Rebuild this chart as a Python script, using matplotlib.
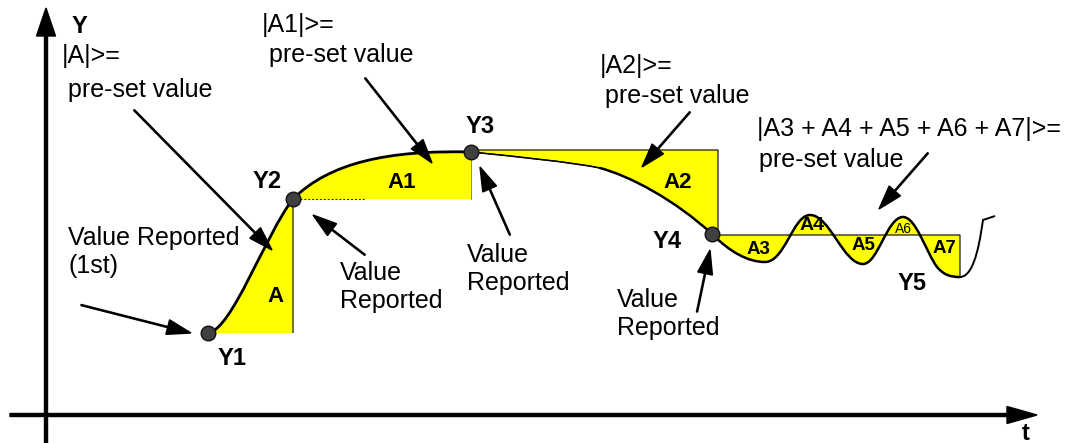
import matplotlib.pyplot as plt
from matplotlib.path import Path
from matplotlib.patches import PathPatch

plt.rcParams['font.family'] = ['Liberation Sans', 'DejaVu Sans']

# sketch is laid out in pixel units, y grows downward
report_names = ['Y1', 'Y2', 'Y3', 'Y4']
report_x = [208, 293, 471, 712]
report_y = [333, 199, 152, 234]

# signal as cubic bezier pieces: (ctrl1, ctrl2, end)
rise = [((232, 330), (265, 235), (293, 199))]
top = [((330, 162), (390, 150), (471, 152))]
drift = [((520, 157), (570, 162), (600, 168))]
fall = [((630, 176), (675, 200), (712, 234))]
wiggle = [((730, 252), (748, 262), (765, 262)),
          ((785, 262), (793, 215), (810, 215)),
          ((830, 215), (843, 264), (863, 264)),
          ((878, 264), (887, 217), (903, 217)),
          ((916, 217), (926, 252), (937, 267)),
          ((944, 275), (950, 277), (960, 277))]
tail = [((976, 277), (981, 232), (983, 220))]
tail_end = (995, 216)

area_names = ['A', 'A1', 'A2', 'A3', 'A4', 'A5', 'A6', 'A7']


def bez(start, pieces, lines=()):
    verts = [start]
    codes = [Path.MOVETO]
    for c1, c2, end in pieces:
        verts += [c1, c2, end]
        codes += [Path.CURVE4] * 3
    for p in lines:
        verts.append(p)
        codes.append(Path.LINETO)
    return Path(verts, codes)


pts = list(zip(report_x, report_y))
yellow = '#ffff00'

fig = plt.figure(figsize=(10.71, 4.43), dpi=100)
ax = fig.add_axes([0, 0, 1, 1])
ax.set_xlim(0, 1071)
ax.set_ylim(443, 0)
ax.axis('off')

# shaded areas
ax.add_patch(PathPatch(bez(pts[0], rise, [(293, 333)]), fc=yellow, ec='black', lw=0.8))
ax.add_patch(PathPatch(bez(pts[1], top, [(471, 199), (293, 199)]), fc=yellow, ec='none'))
ax.plot([471, 471], [152, 199], color='#888888', lw=0.7)
ax.plot([296, 365], [199, 199], color='#333333', lw=0.8, ls=(0, (2, 1.5)))
ax.add_patch(PathPatch(bez(pts[2], drift + fall, [(718, 235), (718, 150), (471, 150)]),
                       fc=yellow, ec='black', lw=0.8))
ax.add_patch(PathPatch(bez(pts[3], wiggle, [(960, 235), (712, 235)]), fc=yellow, ec='black', lw=0.8))

# the signal
ax.add_patch(PathPatch(bez(pts[0], rise + top), fc='none', ec='black', lw=2.0, capstyle='round'))
ax.add_patch(PathPatch(bez(pts[2], drift), fc='none', ec='black', lw=1.1))
ax.add_patch(PathPatch(bez((600, 168), fall + wiggle), fc='none', ec='black', lw=1.8,
                       capstyle='round'))
ax.add_patch(PathPatch(bez((960, 277), tail, [tail_end]), fc='none', ec='black', lw=1.4))

ax.plot(report_x, report_y, 'o', ms=10.5, color='#404040', mec='#111111', mew=1, zorder=5)

# axes of the sketch
ax.arrow(46, 443, 0, -435, width=3, head_width=19, head_length=28,
         length_includes_head=True, fc='black', ec='black')
ax.arrow(10, 415, 1027, 0, width=3, head_width=17, head_length=30,
         length_includes_head=True, fc='black', ec='black')
ax.text(72, 33, 'Y', fontsize=17, fontweight='bold')
ax.text(1022, 440, 't', fontsize=17, fontweight='bold')


def pointer(x0, y0, x1, y1):
    ax.arrow(x0, y0, x1 - x0, y1 - y0, width=1.2, head_width=15, head_length=24,
             length_includes_head=True, fc='black', ec='black')


pointer(134, 110, 272, 250)
pointer(81, 305, 191, 333)
pointer(365, 78, 432, 163)
pointer(365, 255, 313, 215)
pointer(510, 235, 480, 167)
pointer(690, 112, 642, 167)
pointer(697, 312, 710, 250)
pointer(928, 153, 879, 209)

fs = 18
ax.text(62, 63, '|A|>=', fontsize=fs)
ax.text(68, 97, 'pre-set value', fontsize=fs)
ax.text(262, 32, '|A1|>=', fontsize=fs)
ax.text(269, 62, 'pre-set value', fontsize=fs)
ax.text(600, 73, '|A2|>=', fontsize=fs)
ax.text(605, 103, 'pre-set value', fontsize=fs)
ax.text(757, 136, '|A3 + A4 + A5 + A6 + A7|>=', fontsize=fs)
ax.text(759, 167, 'pre-set value', fontsize=fs)
ax.text(68, 245, 'Value Reported', fontsize=fs)
ax.text(68, 273, '(1st)', fontsize=fs)
for x, y in [(340, 280), (467, 262), (617, 307)]:
    ax.text(x, y, 'Value', fontsize=fs)
    ax.text(x, y + 28, 'Reported', fontsize=fs)

for name, x, y in zip(report_names + ['Y5'], [218, 253, 466, 653, 898], [365, 188, 133, 248, 290]):
    ax.text(x, y, name, fontsize=17, fontweight='bold')

area_x = [267, 387, 663, 747, 800, 852, 895, 933]
area_y = [302, 188, 188, 254, 230, 250, 233, 253]
area_fs = [16, 16, 16, 13.5, 14, 13.5, 10, 13.5]
for name, x, y, s in zip(area_names, area_x, area_y, area_fs):
    ax.text(x, y, name, fontsize=s, fontweight='normal' if name == 'A6' else 'bold')

fig.savefig('out.png', dpi=100)
